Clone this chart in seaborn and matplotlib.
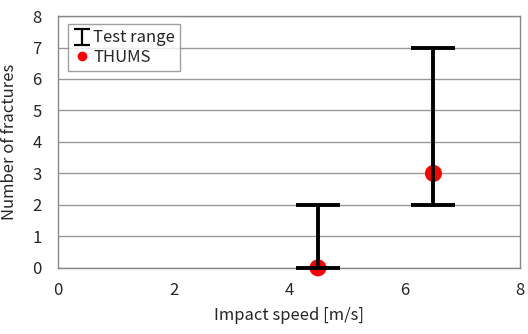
import matplotlib
matplotlib.use("Agg")
import matplotlib.pyplot as plt
from matplotlib.lines import Line2D
from matplotlib.path import Path
import seaborn as sns
import pandas as pd

speed = [4.5, 6.5]
test_min = [0, 2]
test_max = [2, 7]
thums = [0, 3]
x_ticks = [0, 2, 4, 6, 8]
y_ticks = [0, 1, 2, 3, 4, 5, 6, 7, 8]

sns.set_theme(style="white")
plt.rcParams['font.family'] = ['Noto Sans CJK JP', 'DejaVu Sans']

df = pd.DataFrame({"speed": speed, "lo": test_min, "hi": test_max, "thums": thums})

fig = plt.figure(figsize=(5.28, 3.34), dpi=100)
ax = fig.add_axes([0.11, 0.198, 0.875, 0.754])

for y in y_ticks:
    ax.axhline(y, color="#999999", lw=1.0, zorder=0)

sns.scatterplot(data=df, x="speed", y="thums", ax=ax, color="red", s=150,
                edgecolor="none", zorder=4, legend=False, clip_on=False)
eb = ax.errorbar(df["speed"], df["lo"], yerr=[[0] * len(df), list(df["hi"] - df["lo"])],
                 fmt="none", ecolor="black", elinewidth=2.8, capsize=15.5, capthick=2.8,
                 zorder=5)
for art in eb.lines[1] + eb.lines[2]:
    art.set_clip_on(False)

ax.set_xlim(0, 8)
ax.set_ylim(0, 8)
ax.set_xticks(x_ticks)
ax.set_yticks(y_ticks)
ax.tick_params(axis="x", direction="in", length=4, width=0.8, color="#666666", pad=10, labelsize=12)
ax.tick_params(axis="y", length=0, pad=12, labelsize=12)
for s in ax.spines.values():
    s.set_color("#888888")
    s.set_linewidth(1.0)
ax.set_xlabel("Impact speed [m/s]", fontsize=12, labelpad=6)
ax.set_ylabel("Number of fractures", fontsize=12, labelpad=10)

ibeam = Path([(-1, 1), (1, 1), (0, 1), (0, -1), (-1, -1), (1, -1)],
             [Path.MOVETO, Path.LINETO, Path.MOVETO, Path.LINETO, Path.MOVETO, Path.LINETO])
h1 = Line2D([], [], linestyle="none", marker=ibeam, markersize=12, markeredgewidth=1.6,
            markeredgecolor="black", markerfacecolor="none")
h2 = Line2D([], [], linestyle="none", marker="o", markersize=7, markerfacecolor="red",
            markeredgecolor="none")
leg = ax.legend([h1, h2], ["Test range", "THUMS"],
                loc="upper left", bbox_to_anchor=(0.015, 0.98), fontsize=12,
                frameon=True, fancybox=False, edgecolor="#888888",
                handlelength=1.0, handletextpad=0.2, borderpad=0.3,
                labelspacing=0.15, borderaxespad=0.2)
leg.get_frame().set_linewidth(1.0)
leg.set_zorder(6)

fig.savefig("out.png", dpi=100)
